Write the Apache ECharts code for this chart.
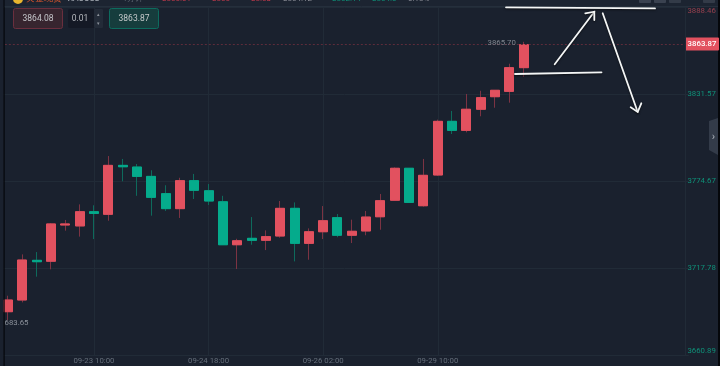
<!DOCTYPE html>
<html><head><meta charset="utf-8">
<style>html,body{margin:0;padding:0;background:#1a212e}#c{width:720px;height:366px}</style>
<script src="https://cdn.jsdelivr.net/npm/echarts@6/dist/echarts.min.js"></script></head>
<body><div id="c"></div><script>
const times=['09-22 10:00','09-22 14:00','09-22 18:00','09-22 22:00','09-23 02:00','09-23 06:00','09-23 10:00','09-23 14:00','09-23 18:00','09-23 22:00','09-24 02:00','09-24 06:00','09-24 10:00','09-24 14:00','09-24 18:00','09-24 22:00','09-25 02:00','09-25 06:00','09-25 10:00','09-25 14:00','09-25 18:00','09-25 22:00','09-26 02:00','09-26 06:00','09-26 10:00','09-26 14:00','09-26 18:00','09-26 22:00','09-27 02:00','09-29 06:00','09-29 10:00','09-29 14:00','09-29 18:00','09-29 22:00','09-30 02:00','09-30 06:00','09-30 10:00','','','','','','','','','','',''];
const opens=[3689.2,3696.85,3722.8,3722.2,3745.9,3745.3,3754.6,3752.9,3784.9,3783.8,3777.7,3766.4,3756.6,3774.9,3768.3,3761.1,3733.0,3737.2,3735.9,3738.7,3756.8,3733.9,3741.5,3750.7,3739.2,3742.0,3751.3,3762.1,3783.0,3758.5,3778.6,3813.7,3807.8,3821.6,3829.8,3833.3,3848.8];
const closes=[3696.85,3723.0,3721.9,3746.6,3746.6,3754.6,3753.5,3784.9,3784.0,3777.7,3764.0,3756.6,3774.9,3768.6,3761.6,3733.0,3735.6,3735.9,3738.3,3756.8,3733.9,3741.5,3748.7,3739.2,3741.8,3751.1,3761.8,3783.0,3760.7,3778.4,3813.7,3807.8,3821.6,3829.2,3834.0,3848.8,3863.87];
const lows=[3683.65,3695.3,3712.1,3716.9,3742.2,3738.3,3736.7,3748.7,3774.5,3765.0,3752.0,3755.1,3750.5,3762.9,3759.0,3733.0,3717.1,3733.0,3729.5,3737.6,3722.1,3723.2,3736.7,3737.9,3734.1,3739.2,3742.8,3761.8,3760.7,3757.9,3778.0,3805.4,3806.5,3817.0,3822.6,3825.9,3842.9];
const highs=[3699.66,3726.7,3728.2,3747.2,3749.2,3759.4,3758.8,3791.0,3789.1,3785.8,3781.7,3771.9,3776.8,3779.3,3772.7,3765.0,3736.9,3751.1,3742.4,3761.6,3760.7,3743.7,3758.3,3753.1,3749.4,3755.1,3766.2,3783.6,3783.0,3789.1,3814.8,3820.5,3831.6,3833.7,3834.0,3851.4,3865.70];
const priceTicks=[3660.89,3717.78,3774.67,3831.57,3888.46];
const lastPrice=3863.87, highLabel='3865.70', lowLabel='683.65';
const bidText='3864.08', stepText='0.01', askText='3863.87';

const RED='#e2515f',GREEN='#05ab8c',RED_DIM='#7c3343',GREEN_DIM='#0e6a5c',GRID='#212b37',FONT='Roboto, "Noto Sans", sans-serif';
const full=opens.map((o,i)=>[o,closes[i],lows[i],highs[i]]);
const bodies=opens.map((o,i)=>[o,closes[i],Math.min(o,closes[i]),Math.max(o,closes[i])]);
const stroke=(points,w)=>({type:'polyline',z:60,shape:{points},style:{stroke:'#f4f6f6',lineWidth:w||1.8,fill:null,lineCap:'round',shadowColor:'rgba(0,0,0,.6)',shadowBlur:2,shadowOffsetY:1}});
const rect=(x,y,w,h,fill,st,r)=>({type:'rect',z:50,shape:{x,y,width:w,height:h,r:r||0},style:{fill,stroke:st||null,lineWidth:st?1:0}});
const text=(x,y,t,fill,size,align,weight)=>({type:'text',z:55,x,y,style:{text:t,fill,font:(weight||'normal')+' '+(size||9)+'px '+FONT,align:align||'center',verticalAlign:'middle'}});
const showTick=(i)=>i%8===6&&i<=30;
const chart=echarts.init(document.getElementById('c'));
chart.setOption({
 animation:false,backgroundColor:'#1a212e',
 grid:{left:0.84,top:0,width:687.6,height:355,containLabel:false},
 xAxis:{type:'category',data:times,boundaryGap:true,
  axisLine:{lineStyle:{color:GRID}},axisTick:{show:false,alignWithLabel:true,interval:showTick},
  axisLabel:{color:'#666f7b',fontSize:7.8,fontFamily:FONT,margin:2,interval:showTick,hideOverlap:false},
  splitLine:{show:true,alignWithLabel:true,interval:showTick,lineStyle:{color:GRID}}},
 yAxis:{type:'value',position:'right',min:3660.89,max:3893.05,scale:true,
  axisLine:{show:false},axisTick:{show:false,customValues:priceTicks},
  splitLine:{show:true,lineStyle:{color:GRID}},
  axisLabel:{customValues:priceTicks,align:'left',margin:-1,fontSize:7.8,fontFamily:FONT,
   verticalAlignMinLabel:'bottom',verticalAlignMaxLabel:'top',
   formatter:v=>v.toFixed(2),
   color:v=>v>3880?'#96404e':'#0f9078'}},
 series:[
 {type:'candlestick',name:'wick',data:full,barWidth:9.5,z:3,
  itemStyle:{color:RED,color0:GREEN,borderColor:RED_DIM,borderColor0:GREEN_DIM,borderWidth:1},
  markLine:{silent:true,symbol:'none',animation:false,
   data:[{yAxis:lastPrice}],
   lineStyle:{color:'#5d2c3a',type:[2,2],width:1},
   label:{show:false}},
  markPoint:{silent:true,symbol:'circle',symbolSize:0,animation:false,
   data:[
    {coord:[36,3865.70],label:{show:true,formatter:highLabel,position:'inside',offset:[-22,1],color:'#7e848d',fontSize:7.8,fontFamily:FONT}},
    {coord:[0,3683.65],label:{show:true,formatter:lowLabel,position:'inside',offset:[8.5,2.5],color:'#8b919a',fontSize:7.8,fontFamily:FONT}}
   ]}},
 {type:'candlestick',name:'body',data:bodies,barWidth:9.5,z:4,
  itemStyle:{color:RED,color0:GREEN,borderColor:RED,borderColor0:GREEN,borderWidth:1}}
 ],
 graphic:[
  {type:'line',z:51,shape:{x1:685.5,y1:7,x2:685.5,y2:355},style:{stroke:GRID,lineWidth:1}},
  rect(0,0,3.5,366,'#1a212e'),rect(3.5,0,1.2,366,'#05070b'),rect(718,0,2,366,'#05070b'),
  rect(4.7,0,713.3,6,'#1c2431'),
  {type:'line',z:51,shape:{x1:4.7,y1:6.5,x2:718,y2:6.5},style:{stroke:'#252f3c',lineWidth:1}},
  // header strip, cut off by the window edge
  {type:'circle',z:52,shape:{cx:18,cy:-1,r:5},style:{fill:'#e8b52e'}},
  text(44,-1,'黄金现货','#d9562e',9),text(84,-1,'XAUUSD','#aab0b8',8.5),text(131,-1,'· 1分钟','#5f6874',8),
  text(162,-1,'3866.01','#c23a4c',8,'left'),text(212,-1,'3866','#c23a4c',8,'left'),text(251,-1,'38.63','#c23a4c',8,'left'),text(283,-1,'3864.12','#8d8f98',8,'left'),text(332,-1,'3862.14','#0e8f77',8,'left'),text(372,-1,'3864.0','#0e8f77',8,'left'),text(408,-1,'0.18%','#8d8f98',8,'left'),
  rect(639,-3,12,6,'#3a4250',null,1),rect(654,-3,12,6,'#3a4250',null,1),rect(669,-3,12,6,'#333b48',null,1),rect(703,-3,12,6,'#333b48',null,1),
  // order ticket
  rect(13.5,8.5,49,20,'#37252f','#6a2f3e',2),text(38,19,bidText,'#c5c6ca',8.5),
  rect(68,9,35,19,'#141925',null,2),text(80,19,stepText,'#b5b8bd',8.5),
  rect(94,9,9,19,'#232b38',null,1),text(98.5,14.5,'▴','#8d939c',5),text(98.5,23.5,'▾','#8d939c',5),
  rect(109.5,8.5,49,20,'#163d3d','#0d6b5e',2),text(134,19,askText,'#c5c9ca',8.5),
  // last-price tag
  rect(685,37.5,34,13,RED,null,1),text(702,44.5,lastPrice.toFixed(2),'#fff',7.8,'center','500'),
  // side tab
  {type:'polygon',z:50,shape:{points:[[718,118],[709,121],[709,150],[718,155]]},style:{fill:'#333b49'}},
  text(713.5,137,'›','#aeb4bd',11),
  // hand-drawn annotation
  stroke([[506,7.3],[655,8.4]]),
  stroke([[515,74],[601.5,72.3]]),
  stroke([[554.7,64.3],[594.3,11.7]]),stroke([[585.3,13.3],[594.3,11.7],[594.3,20]]),
  stroke([[602.7,13.3],[637.7,112]]),stroke([[630.7,107.3],[637.7,112],[641.3,103.3]])
 ]
});
</script></body></html>
